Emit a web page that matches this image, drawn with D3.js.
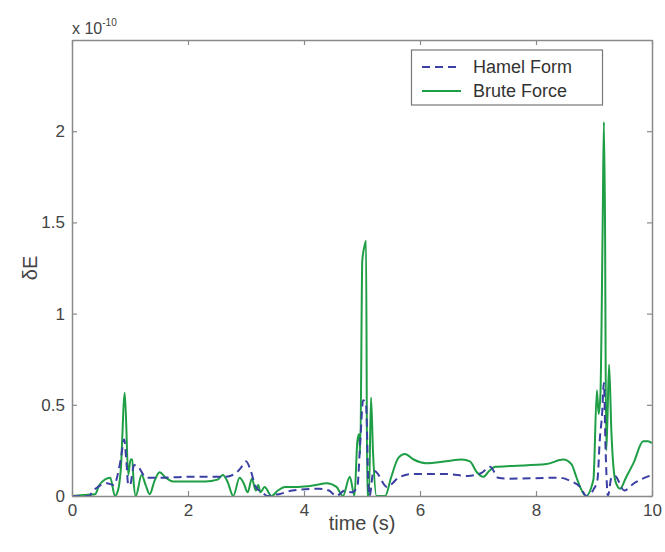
<!DOCTYPE html>
<html>
<head>
<meta charset="utf-8">
<script src="https://cdn.jsdelivr.net/npm/d3@7"></script>
<style>
  body { margin: 0; background: #fff; }
  text { font-family: "Liberation Sans", Arial, sans-serif; }
</style>
</head>
<body>
<div class="canvas"></div>
<script>
// Data (units of 1e-10)
const hamelT = [0, 0.3, 0.34, 0.45, 0.6, 0.72, 0.84, 0.9, 0.94, 0.97, 1.0, 1.07, 1.14, 1.28, 1.5, 2.0, 2.63, 2.8, 2.9, 3.0, 3.08, 3.17, 3.28, 3.37, 3.57, 3.8, 4.26, 4.43, 4.56, 4.7, 4.82, 4.92, 4.97, 5.02, 5.07, 5.11, 5.13, 5.2, 5.25, 5.43, 5.63, 5.83, 6.47, 6.82, 7.05, 7.21, 7.35, 7.5, 8.41, 8.61, 8.76, 8.87, 8.99, 9.06, 9.1, 9.14, 9.17, 9.2, 9.24, 9.3, 9.36, 9.52, 9.69, 10]
const hamelE = [0, 0.0, 0.02, 0.05, 0.07, 0.06, 0.2, 0.31, 0.18, 0.06, 0.06, 0.17, 0.16, 0.1, 0.1, 0.105, 0.105, 0.12, 0.15, 0.19, 0.14, 0.05, 0.02, 0.0, 0.01, 0.03, 0.04, 0.03, 0.0, 0.03, 0.02, 0.05, 0.3, 0.525, 0.5, 0.06, 0.0, 0.14, 0.13, 0.05, 0.1, 0.12, 0.12, 0.11, 0.125, 0.16, 0.1, 0.095, 0.1, 0.08, 0.05, 0.0, 0.035, 0.09, 0.31, 0.45, 0.62, 0.25, 0.0, 0.1, 0.11, 0.03, 0.07, 0.115]

const bruteT = [0, 0.2, 0.4, 0.47, 0.66, 0.74, 0.8, 0.84, 0.91, 0.97, 1.01, 1.04, 1.06, 1.1, 1.2, 1.27, 1.34, 1.42, 1.51, 1.62, 1.74, 2.0, 2.3, 2.51, 2.6, 2.68, 2.78, 2.89, 2.96, 3.03, 3.1, 3.17, 3.21, 3.25, 3.32, 3.44, 3.55, 3.67, 3.9, 4.2, 4.39, 4.56, 4.67, 4.79, 4.87, 4.92, 4.95, 4.97, 5.005, 5.05, 5.07, 5.09, 5.12, 5.155, 5.19, 5.25, 5.4, 5.5, 5.63, 5.74, 5.89, 6.1, 6.45, 6.72, 6.86, 6.98, 7.09, 7.2, 7.3, 7.6, 8.18, 8.47, 8.61, 8.7, 8.76, 8.86, 8.99, 9.05, 9.08, 9.11, 9.15, 9.17, 9.19, 9.21, 9.23, 9.26, 9.3, 9.37, 9.45, 9.55, 9.68, 9.85, 9.93, 10]
const bruteE = [0, 0.005, 0.01, 0.06, 0.1, 0.0, 0.04, 0.14, 0.566, 0.115, 0.2, 0.2, 0.09, 0.0, 0.115, 0.06, 0.01, 0.08, 0.13, 0.1, 0.08, 0.08, 0.08, 0.09, 0.115, 0.08, 0.0, 0.1, 0.07, 0.02, 0.095, 0.03, 0.06, 0.02, 0.05, 0.0, 0.03, 0.05, 0.05, 0.06, 0.07, 0.05, 0.0, 0.105, 0.0, 0.3, 0.34, 0.23, 1.29, 1.38, 1.4, 0.0, 0.0, 0.54, 0.24, 0.0, 0.0, 0.1, 0.21, 0.23, 0.2, 0.18, 0.19, 0.2, 0.19, 0.13, 0.105, 0.14, 0.16, 0.165, 0.175, 0.2, 0.175, 0.1, 0.05, 0.0, 0.09, 0.58, 0.45, 0.55, 1.5, 2.05, 1.5, 0.25, 0.4, 0.72, 0.35, 0.08, 0.04, 0.1, 0.18, 0.3, 0.3, 0.29]

const xTicks = [0, 2, 4, 6, 8, 10]
const yTicks = [0, 0.5, 1, 1.5, 2]
const yTickLabels = ['0', '0.5', '1', '1.5', '2']
const seriesNames = ['Hamel Form', 'Brute Force']

const width = 665
const height = 552
const margin = {top: 40, right: 13, left: 72, bottom: 56}

const svg = d3.select('.canvas')
  .append('svg')
    .attr('width', width)
    .attr('height', height)

const x = d3.scaleLinear().domain([0, 10]).range([margin.left, width - margin.right])
const y = d3.scaleLinear().domain([0, 2.5]).range([height - margin.bottom, margin.top])

const axisColor = '#8a8a8a'
const textColor = '#444'
const tickLen = 5

// lines first, axes box on top
const line = d3.line()
  .x((d) => x(d[0]))
  .y((d) => y(d[1]))
  .curve(d3.curveMonotoneX)

const hamel = hamelT.map((t, i) => [t, hamelE[i]])
const brute = bruteT.map((t, i) => [t, bruteE[i]])

const plot = svg.append('g')

plot.append('path')
  .datum(brute)
  .attr('d', line)
  .attr('fill', 'none')
  .attr('stroke', '#1e9e45')
  .attr('stroke-width', 2)

plot.append('path')
  .datum(hamel)
  .attr('d', line)
  .attr('fill', 'none')
  .attr('stroke', '#3b3fa3')
  .attr('stroke-width', 2)
  .attr('stroke-dasharray', '8,5')

// axes with inward ticks on all sides
const axBottom = svg.append('g')
  .attr('transform', `translate(0,${y(0)})`)
  .call(d3.axisBottom(x).tickValues(xTicks).tickSizeInner(-tickLen).tickSizeOuter(0).tickPadding(8))
const axTop = svg.append('g')
  .attr('transform', `translate(0,${y(2.5)})`)
  .call(d3.axisTop(x).tickValues(xTicks).tickSizeInner(-tickLen).tickSizeOuter(0).tickFormat(''))
const axLeft = svg.append('g')
  .attr('transform', `translate(${x(0)},0)`)
  .call(d3.axisLeft(y).tickValues(yTicks).tickSizeInner(-tickLen).tickSizeOuter(0).tickPadding(7)
    .tickFormat((d, i) => yTickLabels[i]))
const axRight = svg.append('g')
  .attr('transform', `translate(${x(10)},0)`)
  .call(d3.axisRight(y).tickValues(yTicks).tickSizeInner(-tickLen).tickSizeOuter(0).tickFormat(''))

;[axBottom, axTop, axLeft, axRight].forEach((g) => {
  g.select('.domain').attr('stroke', axisColor).attr('stroke-width', 1.5)
  g.selectAll('.tick line').attr('stroke', axisColor).attr('stroke-width', 1.2)
  g.selectAll('.tick text')
    .attr('fill', textColor)
    .style('font-size', '17px')
    .style('font-family', '"Liberation Sans", Arial, sans-serif')
})

// axis labels
svg.append('text')
  .attr('x', (x(0) + x(10)) / 2)
  .attr('y', 530)
  .attr('text-anchor', 'middle')
  .attr('fill', textColor)
  .style('font-size', '20px')
  .text('time (s)')

svg.append('text')
  .attr('transform', `translate(37,${(y(0) + y(2.5)) / 2}) rotate(-90)`)
  .attr('text-anchor', 'middle')
  .attr('fill', textColor)
  .style('font-size', '20px')
  .text('δE')

// exponent label
const expo = svg.append('text')
  .attr('x', 72)
  .attr('y', 34)
  .attr('fill', textColor)
  .style('font-size', '16px')
expo.append('tspan').text('x 10')
expo.append('tspan')
  .attr('dy', -8)
  .style('font-size', '10px')
  .text('-10')

// legend
const legend = svg.append('g')
legend.append('rect')
  .attr('x', 411.5)
  .attr('y', 50)
  .attr('width', 191)
  .attr('height', 55)
  .attr('fill', '#fff')
  .attr('stroke', '#777')
  .attr('stroke-width', 1.2)

const legendStyles = [
  {color: '#3b3fa3', dash: '8,5'},
  {color: '#1e9e45', dash: null}
]
seriesNames.forEach((name, i) => {
  const ly = 67 + i * 24
  legend.append('line')
    .attr('x1', 422).attr('x2', 461)
    .attr('y1', ly).attr('y2', ly)
    .attr('stroke', legendStyles[i].color)
    .attr('stroke-width', 2)
    .attr('stroke-dasharray', legendStyles[i].dash)
  legend.append('text')
    .attr('x', 473)
    .attr('y', ly + 6)
    .attr('fill', '#333')
    .style('font-size', '18px')
    .text(name)
})
</script>
</body>
</html>
